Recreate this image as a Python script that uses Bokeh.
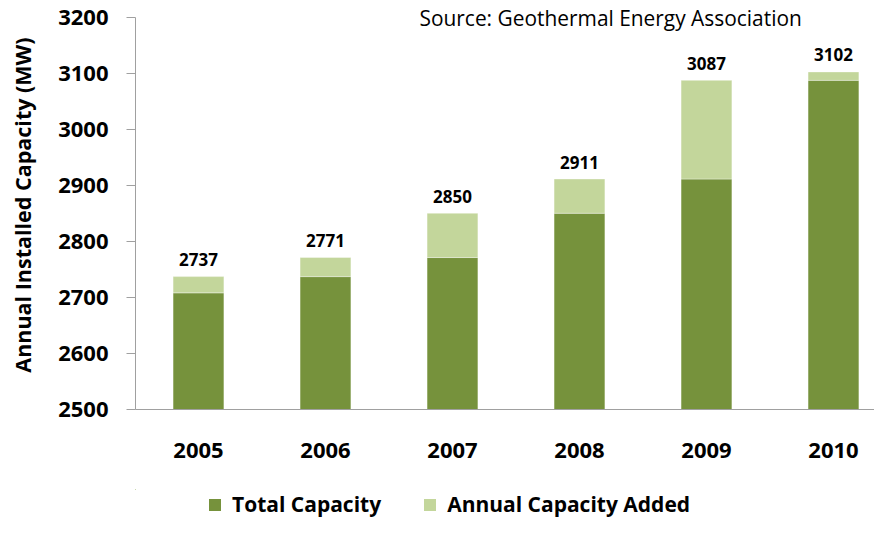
from bokeh.plotting import figure
from bokeh.layouts import column
from bokeh.models import (FixedTicker, Legend, LegendItem, Label, ColumnDataSource,
                          Range1d)
from bokeh.core.properties import value
from bokeh.embed import file_html
from bokeh.resources import INLINE

# ---- data ----
years = ["2005", "2006", "2007", "2008", "2009", "2010"]
total_capacity = [2708, 2737, 2771, 2850, 2911, 3087]
capacity_added = [29, 34, 79, 61, 176, 15]
y_ticks = [2500, 2600, 2700, 2800, 2900, 3000, 3100, 3200]
series_names = ["Total Capacity", "Annual Capacity Added"]

DARK = "#76923C"
LIGHT = "#C3D69B"
FONT = "Open Sans"

# ---- layout constants (pixels) ----
FRAME_BOTTOM = 409      # y of the x axis line
TOP_GAP = 16.5          # gap between figure top and the top tick
y_lo, y_hi = y_ticks[0], y_ticks[-1]
y_end = y_hi + (y_hi - y_lo) * TOP_GAP / (FRAME_BOTTOM - TOP_GAP)

x = list(range(len(years)))
tops = [t + a for t, a in zip(total_capacity, capacity_added)]
src = ColumnDataSource(dict(
    x=x, base=[y_lo] * len(x), total=total_capacity, top=tops,
    label=[str(v) for v in tops]))

p = figure(width=874, height=489, output_backend="svg", toolbar_location=None,
           x_range=Range1d(-0.496, 5.323), y_range=Range1d(y_lo, y_end),
           min_border_left=135, min_border_right=0, min_border_top=0,
           min_border_bottom=489 - FRAME_BOTTOM)
p.outline_line_color = None
p.xgrid.visible = False
p.ygrid.visible = False

r1 = p.vbar(x="x", bottom="base", top="total", width=0.4, source=src,
            fill_color=DARK, line_color="white", line_alpha=0.35, line_width=1)
r2 = p.vbar(x="x", bottom="total", top="top", width=0.4, source=src,
            fill_color=LIGHT, line_color="white", line_alpha=0.35, line_width=1)

p.text(x="x", y="top", text="label", source=src, text_align="center",
       text_baseline="alphabetic", y_offset=-17, text_font=value(FONT),
       text_font_style="bold", text_font_size="17px", text_color="black")

# y axis
ya = p.yaxis[0]
ya.ticker = FixedTicker(ticks=y_ticks)
ya.bounds = (y_lo, y_hi)
ya.minor_tick_line_color = None
ya.major_tick_in = 0
ya.major_tick_out = 9
ya.axis_line_color = "#A0A0A0"
ya.major_tick_line_color = "#A0A0A0"
ya.major_label_standoff = 18
ya.major_label_text_font = FONT
ya.major_label_text_font_style = "bold"
ya.major_label_text_font_size = "22px"
ya.major_label_text_color = "black"
ya.axis_label = "Annual Installed Capacity (MW)"
ya.axis_label_text_font = FONT
ya.axis_label_text_font_style = "bold"
ya.axis_label_text_font_size = "21.5px"
ya.axis_label_text_color = "black"
ya.axis_label_standoff = 18

# x axis
xa = p.xaxis[0]
xa.ticker = FixedTicker(ticks=x)
xa.major_label_overrides = {i: y for i, y in enumerate(years)}
xa.minor_tick_line_color = None
xa.major_tick_line_color = None
xa.major_tick_in = 0
xa.major_tick_out = 0
xa.axis_line_color = "#A0A0A0"
xa.major_label_standoff = 33
xa.major_label_text_font = FONT
xa.major_label_text_font_style = "bold"
xa.major_label_text_font_size = "22px"
xa.major_label_text_color = "black"

src_label = Label(x=419 - 135, y=FRAME_BOTTOM - 17, x_units="screen", y_units="screen",
                  text="Source: Geothermal Energy Association",
                  text_font=FONT, text_font_size="20.9px", text_color="black",
                  text_baseline="alphabetic")
p.add_layout(src_label)

# ---- legend strip below the chart (same data, kept out of view) ----
pl = figure(width=874, height=30, output_backend="svg", toolbar_location=None,
            x_range=Range1d(1000, 1001), y_range=Range1d(0, 1),
            min_border_left=0, min_border_right=0, min_border_top=0,
            min_border_bottom=0)
pl.outline_line_color = None
pl.axis.visible = False
pl.grid.visible = False
l1 = pl.vbar(x="x", bottom="base", top="total", width=0.4, source=src,
             fill_color=DARK, line_color=None)
l2 = pl.vbar(x="x", bottom="total", top="top", width=0.4, source=src,
             fill_color=LIGHT, line_color=None)
legend = Legend(items=[LegendItem(label=series_names[0], renderers=[l1]),
                       LegendItem(label=series_names[1], renderers=[l2])],
                orientation="horizontal", location=(207 - 135, 1),
                background_fill_alpha=0, border_line_color=None,
                padding=0, margin=0, spacing=41, label_standoff=10,
                glyph_width=15, glyph_height=15, label_height=22,
                label_text_font=FONT, label_text_font_style="bold",
                label_text_font_size="21px", label_text_color="black")
pl.add_layout(legend, "center")

layout = column(p, pl, spacing=0)
open("out.html", "w").write(file_html(layout, INLINE))
